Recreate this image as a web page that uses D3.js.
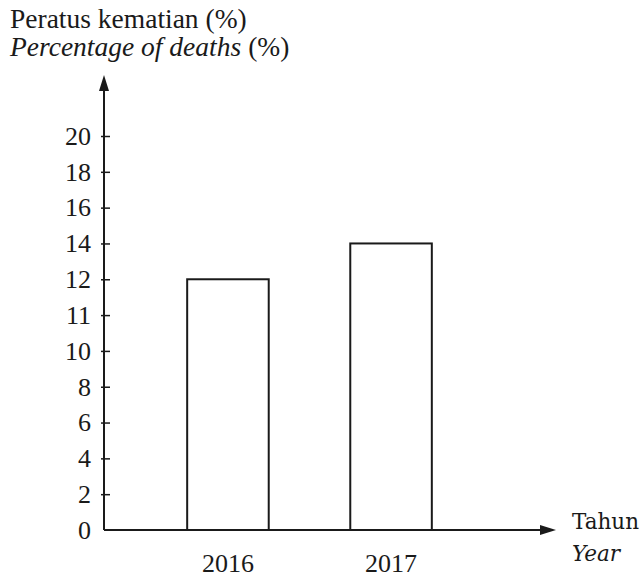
<!DOCTYPE html>
<html>
<head>
<meta charset="utf-8">
<script src="https://cdn.jsdelivr.net/npm/d3@7"></script>
<style>
  body { margin: 0; background: #fff; }
</style>
</head>
<body>
<div id="chart"></div>
<script>
// data
const years = ["2016", "2017"];
const deaths = [12, 14];
// tick labels as printed on the y axis (note the "11")
const yTicks = [0, 2, 4, 6, 8, 10, 11, 12, 14, 16, 18, 20];

const width = 641;
const height = 579;
const x0 = 104, y0 = 530;
const ink = "#1a1a1a";

const svg = d3.select("#chart")
    .append("svg")
    .attr("width", width)
    .attr("height", height);

// ticks are evenly spaced regardless of value, so a point scale fits
const y = d3.scalePoint()
    .domain(yTicks)
    .range([y0, 136]);

const x = d3.scaleBand()
    .domain(years)
    .range([x0, 515])
    .paddingInner(0.5)
    .paddingOuter(0.51);

const serif = "Liberation Serif";

// bars
svg.selectAll("rect.bar")
    .data(years.map((yr, i) => ({ year: yr, value: deaths[i] })))
    .join("rect")
    .attr("class", "bar")
    .attr("x", d => x(d.year))
    .attr("y", d => y(d.value))
    .attr("width", x.bandwidth())
    .attr("height", d => y(0) - y(d.value))
    .attr("fill", "#fff")
    .attr("stroke", ink)
    .attr("stroke-width", 2);

// y axis
const yAxis = d3.axisLeft(y)
    .tickSizeInner(-6)
    .tickSizeOuter(0)
    .tickPadding(13);

const gy = svg.append("g")
    .attr("transform", `translate(${x0},0)`)
    .call(yAxis);
gy.select(".domain").remove();
gy.selectAll(".tick line")
    .attr("x1", -3)
    .attr("stroke", ink)
    .attr("stroke-width", 1.5);
gy.selectAll(".tick").filter(d => d === 0).select("line").remove();
gy.selectAll(".tick text")
    .style("font-family", serif)
    .style("font-size", "26px")
    .attr("fill", ink);

// axis lines with arrows
svg.append("line")
    .attr("x1", x0).attr("y1", y0)
    .attr("x2", x0).attr("y2", 86)
    .attr("stroke", ink).attr("stroke-width", 2);
svg.append("path")
    .attr("d", `M${x0},75 L${x0 - 5},91 L${x0 + 5},91 Z`)
    .attr("fill", ink);

svg.append("line")
    .attr("x1", x0).attr("y1", y0)
    .attr("x2", 545).attr("y2", y0)
    .attr("stroke", ink).attr("stroke-width", 2);
svg.append("path")
    .attr("d", `M556,${y0} L540,${y0 - 5} L540,${y0 + 5} Z`)
    .attr("fill", ink);

// x labels
const xAxis = d3.axisBottom(x).tickSize(0).tickPadding(0);
const gx = svg.append("g")
    .attr("transform", `translate(0,${y0})`)
    .call(xAxis);
gx.select(".domain").remove();
gx.selectAll(".tick text")
    .attr("dy", null)
    .attr("y", 42)
    .style("font-family", serif)
    .style("font-size", "26px")
    .attr("fill", ink);

// titles, one text per line
function label(parent, txt, xPos, yPos, family, size, italic) {
    return parent.append("text")
        .attr("x", xPos)
        .attr("y", yPos)
        .attr("fill", ink)
        .style("font-family", family)
        .style("font-size", size + "px")
        .style("font-style", italic ? "italic" : "normal")
        .text(txt);
}

label(svg, "Peratus kematian (%)", 10, 28, serif, 27.5, false);
const it = label(svg, "Percentage of deaths", 10, 56, serif, 27.5, true);
const itW = it.node().getComputedTextLength();
label(svg, "(%)", 10 + itW + 7, 56, serif, 27.5, false);

// x axis title
label(svg, "Tahun", 572, 529, "DejaVu Serif", 21.5, false);
label(svg, "Year", 572, 561, "DejaVu Serif", 21.5, true);
</script>
</body>
</html>
